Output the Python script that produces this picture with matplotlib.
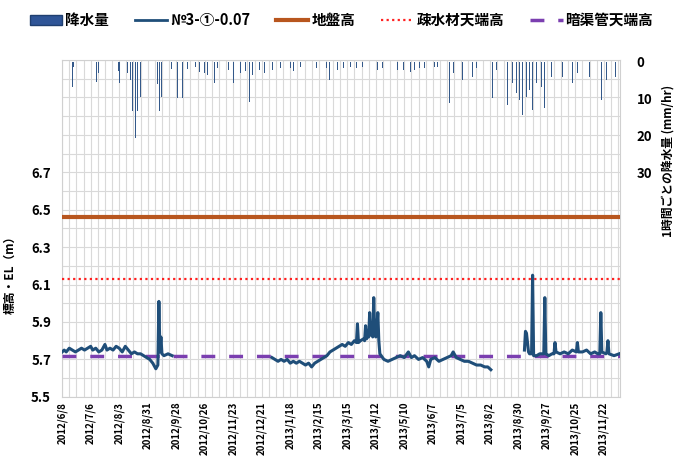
import numpy as np
import pandas as pd
import matplotlib
matplotlib.use('Agg')
import matplotlib.pyplot as plt
import matplotlib.dates as mdates
from matplotlib.ticker import MultipleLocator, FixedLocator
from matplotlib.patches import Patch
from matplotlib.lines import Line2D

plt.rcParams['font.family'] = ['Noto Sans CJK JP', 'DejaVu Sans']

# 水位 (№3-①-0.07) : 欠測区間は None
level_dates = [
    '2012-06-08', '2012-06-10', '2012-06-12', '2012-06-15', '2012-06-18', '2012-06-21',
    '2012-06-24', '2012-06-27', '2012-06-30', '2012-07-03', '2012-07-06', '2012-07-08',
    '2012-07-11', '2012-07-14', '2012-07-17', '2012-07-20', '2012-07-22', '2012-07-25',
    '2012-07-28', '2012-07-31', '2012-08-03', '2012-08-06', '2012-08-09', '2012-08-12',
    '2012-08-15', '2012-08-18', '2012-08-21', '2012-08-24', '2012-08-27', '2012-08-30',
    '2012-09-02', '2012-09-05', '2012-09-08', '2012-09-10', '2012-09-11', '2012-09-12',
    '2012-09-13', '2012-09-14', '2012-09-16', '2012-09-20', '2012-09-24',
    '2012-11-01',
    '2012-12-31', '2013-01-03', '2013-01-06', '2013-01-09', '2013-01-12', '2013-01-15',
    '2013-01-18', '2013-01-21', '2013-01-24', '2013-01-27', '2013-01-30', '2013-02-02',
    '2013-02-05', '2013-02-08', '2013-02-11', '2013-02-14', '2013-02-17', '2013-02-20',
    '2013-02-23', '2013-02-26', '2013-03-01', '2013-03-04', '2013-03-07', '2013-03-10',
    '2013-03-13', '2013-03-16', '2013-03-19', '2013-03-22', '2013-03-24', '2013-03-25',
    '2013-03-26', '2013-03-28', '2013-03-31', '2013-04-01', '2013-04-02', '2013-04-03',
    '2013-04-04', '2013-04-05', '2013-04-06', '2013-04-07', '2013-04-08', '2013-04-09',
    '2013-04-10', '2013-04-11', '2013-04-12', '2013-04-13', '2013-04-14', '2013-04-15',
    '2013-04-16', '2013-04-20', '2013-04-24', '2013-04-28', '2013-05-02', '2013-05-06',
    '2013-05-10', '2013-05-14', '2013-05-17', '2013-05-20', '2013-05-24', '2013-05-28',
    '2013-06-01', '2013-06-03', '2013-06-05', '2013-06-09', '2013-06-13', '2013-06-17',
    '2013-06-21', '2013-06-25', '2013-06-27', '2013-06-30', '2013-07-04', '2013-07-08',
    '2013-07-12', '2013-07-16', '2013-07-20', '2013-07-24', '2013-07-28', '2013-07-31',
    '2013-08-03',
    '2013-08-20',
    '2013-09-05', '2013-09-06', '2013-09-07', '2013-09-09', '2013-09-10', '2013-09-12',
    '2013-09-13', '2013-09-14', '2013-09-17', '2013-09-20', '2013-09-24', '2013-09-25',
    '2013-09-26', '2013-09-29', '2013-10-02', '2013-10-04', '2013-10-05', '2013-10-06',
    '2013-10-10', '2013-10-14', '2013-10-18', '2013-10-22', '2013-10-26', '2013-10-27',
    '2013-10-28', '2013-11-01', '2013-11-05', '2013-11-09', '2013-11-13', '2013-11-16',
    '2013-11-18', '2013-11-19', '2013-11-20', '2013-11-24', '2013-11-25', '2013-11-26',
    '2013-11-27', '2013-12-02', '2013-12-07',
]
level_values = [
    5.74, 5.75, 5.74, 5.76, 5.75, 5.74,
    5.75, 5.76, 5.75, 5.76, 5.77, 5.75,
    5.76, 5.74, 5.75, 5.78, 5.75, 5.76,
    5.75, 5.77, 5.76, 5.74, 5.77, 5.75,
    5.73, 5.74, 5.73, 5.73, 5.72, 5.71,
    5.70, 5.68, 5.65, 5.67, 6.01, 5.74,
    5.82, 5.73, 5.72, 5.73, 5.72,
    None,
    5.71, 5.70, 5.69, 5.70, 5.69, 5.70,
    5.68, 5.69, 5.68, 5.69, 5.68, 5.67,
    5.68, 5.66, 5.68, 5.69, 5.70, 5.71,
    5.72, 5.74, 5.75, 5.76, 5.77, 5.78,
    5.77, 5.79, 5.78, 5.80, 5.79, 5.89,
    5.79, 5.80, 5.81, 5.80, 5.88, 5.81,
    5.84, 5.82, 5.95, 5.83, 5.85, 5.82,
    6.03, 5.84, 5.82, 5.86, 5.95, 5.80,
    5.73, 5.70, 5.69, 5.70, 5.71, 5.72,
    5.71, 5.74, 5.71, 5.72, 5.70, 5.71,
    5.69, 5.66, 5.70, 5.71, 5.69, 5.70,
    5.71, 5.72, 5.74, 5.71, 5.70, 5.69,
    5.69, 5.68, 5.67, 5.67, 5.66, 5.66,
    5.645,
    None,
    5.75, 5.85, 5.84, 5.74, 5.73, 5.73,
    6.15, 5.72, 5.72, 5.73, 5.73, 6.03,
    5.73, 5.72, 5.73, 5.73, 5.79, 5.74,
    5.73, 5.74, 5.73, 5.75, 5.74, 5.79,
    5.74, 5.74, 5.75, 5.73, 5.74, 5.73,
    5.73, 5.95, 5.74, 5.73, 5.74, 5.80,
    5.73, 5.72, 5.73,
]

# 1時間ごとの降水量 (mm/hr)
rain_dates = [
    '2012-06-18', '2012-06-19', '2012-07-12', '2012-07-14', '2012-08-02', '2012-08-03',
    '2012-08-11', '2012-08-14', '2012-08-16', '2012-08-19', '2012-08-21', '2012-08-24',
    '2012-09-10', '2012-09-12', '2012-09-14', '2012-09-23', '2012-09-29', '2012-10-04',
    '2012-10-09', '2012-10-17', '2012-10-21', '2012-10-26', '2012-10-29', '2012-11-05',
    '2012-11-08', '2012-11-13', '2012-11-18', '2012-11-23', '2012-11-30', '2012-12-05',
    '2012-12-09', '2012-12-12', '2012-12-19', '2012-12-24', '2013-01-01', '2013-01-08',
    '2013-01-18', '2013-01-21', '2013-01-28', '2013-02-13', '2013-02-23', '2013-02-26',
    '2013-03-05', '2013-03-11', '2013-03-18', '2013-03-24', '2013-03-30', '2013-04-14',
    '2013-04-19', '2013-04-26', '2013-05-03', '2013-05-09', '2013-05-16', '2013-05-20',
    '2013-05-25', '2013-05-30', '2013-06-09', '2013-06-12', '2013-06-23', '2013-06-27',
    '2013-07-06', '2013-07-16', '2013-07-20', '2013-08-05', '2013-08-09', '2013-08-19',
    '2013-08-24', '2013-08-28', '2013-08-31', '2013-09-03', '2013-09-07', '2013-09-10',
    '2013-09-13', '2013-09-17', '2013-09-22', '2013-09-25', '2013-10-02', '2013-10-07',
    '2013-10-12', '2013-10-22', '2013-10-27', '2013-11-08', '2013-11-20', '2013-11-25',
    '2013-12-03',
]
rain_values = [
    6.7, 1.3, 5.5, 3.0, 2.5, 5.8,
    3.1, 5.0, 13.4, 20.6, 13.4, 9.5,
    6.0, 13.4, 9.5, 2.0, 9.8, 9.8,
    2.0, 1.5, 2.7, 3.1, 3.5, 5.8,
    1.8, 3.1, 2.2, 5.8, 3.1, 2.5,
    10.8, 3.5, 2.2, 3.1, 2.2, 1.8,
    1.8, 2.5, 1.3, 1.8, 1.8, 4.9,
    2.2, 1.8, 1.3, 1.8, 1.3, 2.2,
    1.8, 1.8, 2.2, 2.2, 2.7, 2.2,
    1.8, 1.8, 1.3, 1.3, 11.2, 3.1,
    4.9, 4.0, 1.8, 9.8, 2.2, 11.6,
    5.8, 8.5, 10.3, 14.3, 9.5, 7.6,
    13.0, 5.8, 6.7, 12.5, 4.0, 7.6,
    4.0, 5.8, 3.1, 4.0, 10.3, 4.9,
    4.0,
]

ground_level = 6.46     # 地盤高
drain_top = 6.13        # 疎水材天端高
pipe_top = 5.72         # 暗渠管天端高

level_dates = pd.to_datetime(level_dates)
level_values = np.array([np.nan if v is None else v for v in level_values])
rain_dates = pd.to_datetime(rain_dates)

fig = plt.figure(figsize=(6.83, 4.68), dpi=100)
ax = fig.add_axes([0.091, 0.152, 0.817, 0.720])

ax.axhline(ground_level, color='#b8561e', lw=3, zorder=3)
ax.axhline(drain_top, color='#ff2020', lw=1.6, ls=(0, (1, 1.5)), zorder=3)
ax.axhline(pipe_top, color='#7b3fb0', lw=2.5, ls=(0, (4, 4)), zorder=3)
ax.plot(level_dates, level_values, color='#1f4e79', lw=2.2, zorder=4)

ax.set_xlim(pd.Timestamp('2012-06-08'), pd.Timestamp('2013-12-08'))
ax.set_ylim(5.5, 7.3)
ax.yaxis.set_major_locator(FixedLocator([5.5, 5.7, 5.9, 6.1, 6.3, 6.5, 6.7]))
ax.yaxis.set_minor_locator(MultipleLocator(0.1))

xticks = pd.date_range('2012-06-08', '2013-11-22', freq='28D')
ax.xaxis.set_major_locator(FixedLocator(mdates.date2num(xticks)))
ax.xaxis.set_minor_locator(FixedLocator(mdates.date2num(pd.date_range('2012-06-08', '2013-12-08', freq='7D'))))
ax.set_xticklabels([f'{d.year}/{d.month}/{d.day}' for d in xticks], rotation=90,
                   fontsize=7, fontweight='bold')

ax.grid(True, which='both', color='#d9d9d9', lw=0.8)
ax.set_axisbelow(True)
ax.tick_params(which='both', length=0)
ax.tick_params(axis='y', labelsize=9.5, pad=8)
for t in ax.get_yticklabels():
    t.set_fontweight('bold')
for s in ax.spines.values():
    s.set_color('#d0d0d0')

ax.set_ylabel('標高・EL（m）', fontsize=8.5, fontweight='bold')
ax.yaxis.set_label_coords(-0.082, 0.37)

ax2 = ax.twinx()
ax2.bar(rain_dates, rain_values, width=0.9, color='#34598a', edgecolor='none')
ax2.set_ylim(90.5, -0.5)
ax2.set_yticks([0, 10, 20, 30])
ax2.tick_params(length=0, labelsize=9.5, pad=12)
for t in ax2.get_yticklabels():
    t.set_fontweight('bold')
for s in ax2.spines.values():
    s.set_visible(False)
ax2.set_ylabel('1時間ごとの降水量 (mm/hr)', fontsize=8.5, fontweight='bold', rotation=90)
ax2.yaxis.set_label_coords(1.075, 0.70)

handles = [
    Patch(facecolor='#2f5597', edgecolor='#1f3f70'),
    Line2D([], [], color='#1f4e79', lw=2),
    Line2D([], [], color='#b8561e', lw=3),
    Line2D([], [], color='#ff2020', lw=1.6, ls=(0, (1, 1.5))),
    Line2D([], [], color='#7b3fb0', lw=2.5, ls=(0, (4, 4))),
]
labels = ['降水量', '№3-①-0.07', '地盤高', '疎水材天端高', '暗渠管天端高']
fig.legend(handles, labels, loc='center', bbox_to_anchor=(0.5, 0.957), ncol=5,
           frameon=False, prop={'size': 10.5, 'weight': 'bold'},
           handlelength=2.2, handletextpad=0.2, columnspacing=1.8)

fig.savefig('out.png', dpi=100)
